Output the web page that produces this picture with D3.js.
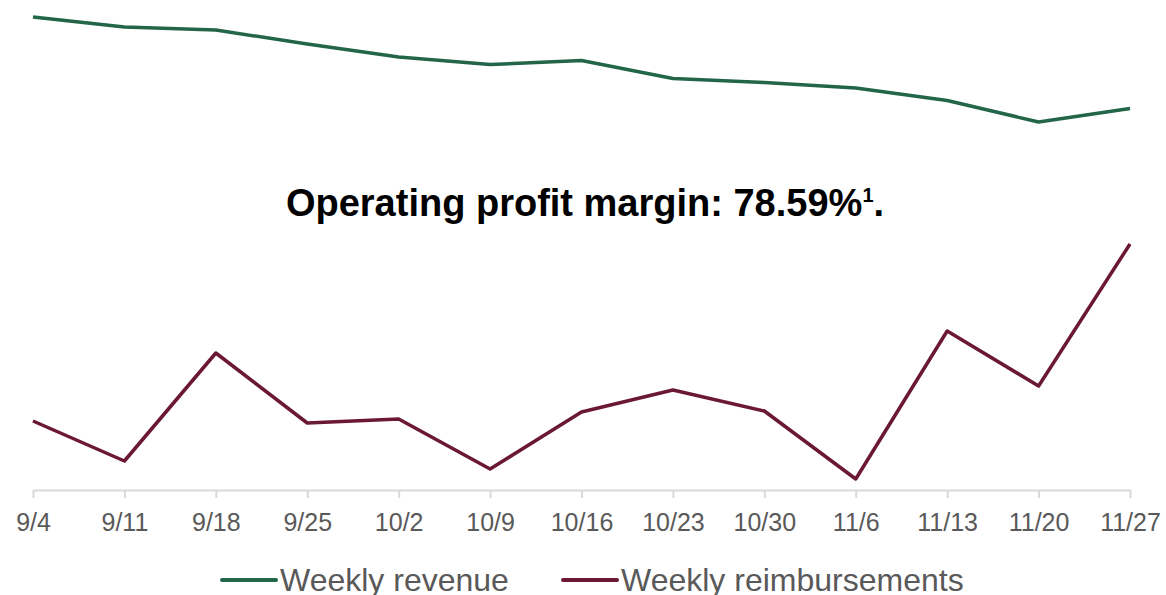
<!DOCTYPE html>
<html>
<head>
<meta charset="utf-8">
<script src="https://cdn.jsdelivr.net/npm/d3@7"></script>
<style>
	html, body { margin: 0; padding: 0; background: #fff; }
	svg { display: block; font-family: "Liberation Sans", Arial, sans-serif; }
</style>
</head>
<body>
<svg id="chart" width="1166" height="595"></svg>
<script>
// weeks on the x axis
var weeks = ["9/4", "9/11", "9/18", "9/25", "10/2", "10/9", "10/16", "10/23", "10/30", "11/6", "11/13", "11/20", "11/27"];
// values (no axis shown, arbitrary units)
var revenue = [47.3, 46.3, 46.0, 44.6, 43.3, 42.55, 42.95, 41.15, 40.75, 40.2, 38.95, 36.8, 38.15];
var reimbursements = [6.9, 2.9, 13.7, 6.7, 7.1, 2.1, 7.8, 10.0, 7.9, 1.1, 15.9, 10.4, 24.6];
var seriesNames = ["Weekly revenue", "Weekly reimbursements"];
var seriesColors = ["#226549", "#6b1833"];
var title = "Operating profit margin: 78.59%";

var svg = d3.select("#chart");

var x = d3.scalePoint()
	.domain(weeks)
	.range([33, 1130]);

var y = d3.scaleLinear()
	.domain([0, 49])
	.range([490, 0]);

// x axis with light grey line and ticks
var axis = svg.append("g")
	.attr("transform", "translate(0," + y(0) + ")")
	.call(d3.axisBottom(x).tickSize(8).tickSizeOuter(0).tickPadding(15));
axis.select(".domain").attr("stroke", "#d9d9d9").attr("stroke-width", 2);
axis.selectAll(".tick line").attr("stroke", "#d9d9d9").attr("stroke-width", 2);
axis.selectAll(".tick text")
	.attr("fill", "#595959")
	.style("font-size", "25px")
	.style("font-family", "Liberation Sans, Arial, sans-serif");

var line = d3.line()
	.x(function(d, i) { return x(weeks[i]); })
	.y(function(d) { return y(d); });

[revenue, reimbursements].forEach(function(values, i) {
	svg.append("path")
		.datum(values)
		.attr("fill", "none")
		.attr("stroke", seriesColors[i])
		.attr("stroke-width", 3.5)
		.attr("stroke-linejoin", "round")
		.attr("d", line);
});

// title in the middle of the plot
var t = svg.append("text")
	.attr("x", 585)
	.attr("y", 216)
	.attr("text-anchor", "middle")
	.style("font-size", "38px")
	.style("font-weight", "bold")
	.attr("fill", "#000")
	.text(title);
t.append("tspan")
	.attr("dy", -14)
	.style("font-size", "20px")
	.text("1");
t.append("tspan")
	.attr("dy", 14)
	.text(".");

// legend
var legendX = [222, 563];
var legend = svg.append("g");
seriesNames.forEach(function(name, i) {
	var g = legend.append("g").attr("transform", "translate(" + legendX[i] + ",580)");
	g.append("line")
		.attr("x1", 0).attr("x2", 54)
		.attr("stroke", seriesColors[i])
		.attr("stroke-width", 4)
		.attr("stroke-linecap", "round");
	g.append("text")
		.attr("x", 58)
		.attr("y", 11)
		.attr("fill", "#595959")
		.style("font-size", "32px")
		.text(name);
});
</script>
</body>
</html>
